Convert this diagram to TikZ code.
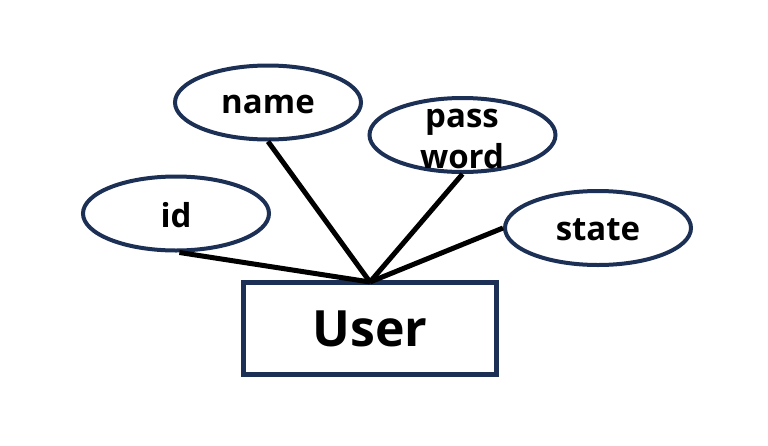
\documentclass[tikz,border=0pt]{standalone}
\usepackage{fontspec}
\setmainfont{Open Sans}
\usetikzlibrary{shapes.geometric}
\definecolor{navy}{HTML}{1C2F55}
\begin{document}
\begin{tikzpicture}[x=1pt,y=-1pt,
  attr/.style={ellipse,draw=navy,line width=4pt,fill=white,minimum width=186pt,minimum height=74pt,inner sep=0pt,font=\fontsize{33}{41}\selectfont\bfseries,align=center},
  lbl/.style={font=\fontsize{33}{41}\selectfont\bfseries,align=center,inner sep=0pt},
  entity/.style={rectangle,draw=navy,line width=5pt,fill=white,minimum width=253pt,minimum height=92pt,inner sep=0pt,font=\fontsize{50}{60}\selectfont\bfseries},
  conn/.style={line width=5pt,black}]
\useasboundingbox (0,0) rectangle (768,445);
\node[entity] (user) at (370,328.5) {User};
\coordinate (hub) at (370,282);
\node[attr] (id) at (176,213.5) {};
\node[attr] (name) at (268,102.5) {};
\node[attr] (pw) at (462.5,135) {};
\node[attr] (state) at (598,228) {};
\draw[conn] (id.-85) -- (hub);
\draw[conn] (name.south) -- (hub);
\draw[conn] (pw.south) -- (hub);
\draw[conn] (state.west) -- (hub);
\node[lbl] (idtext) at (176,215) {id};
\node[lbl] (nametext) at (268,104.5) {name};
\node[lbl] (statetext) at (598,230) {state};
\node[lbl] (pwtext) at (462,139) {pass\\word};
\end{tikzpicture}
\end{document}
